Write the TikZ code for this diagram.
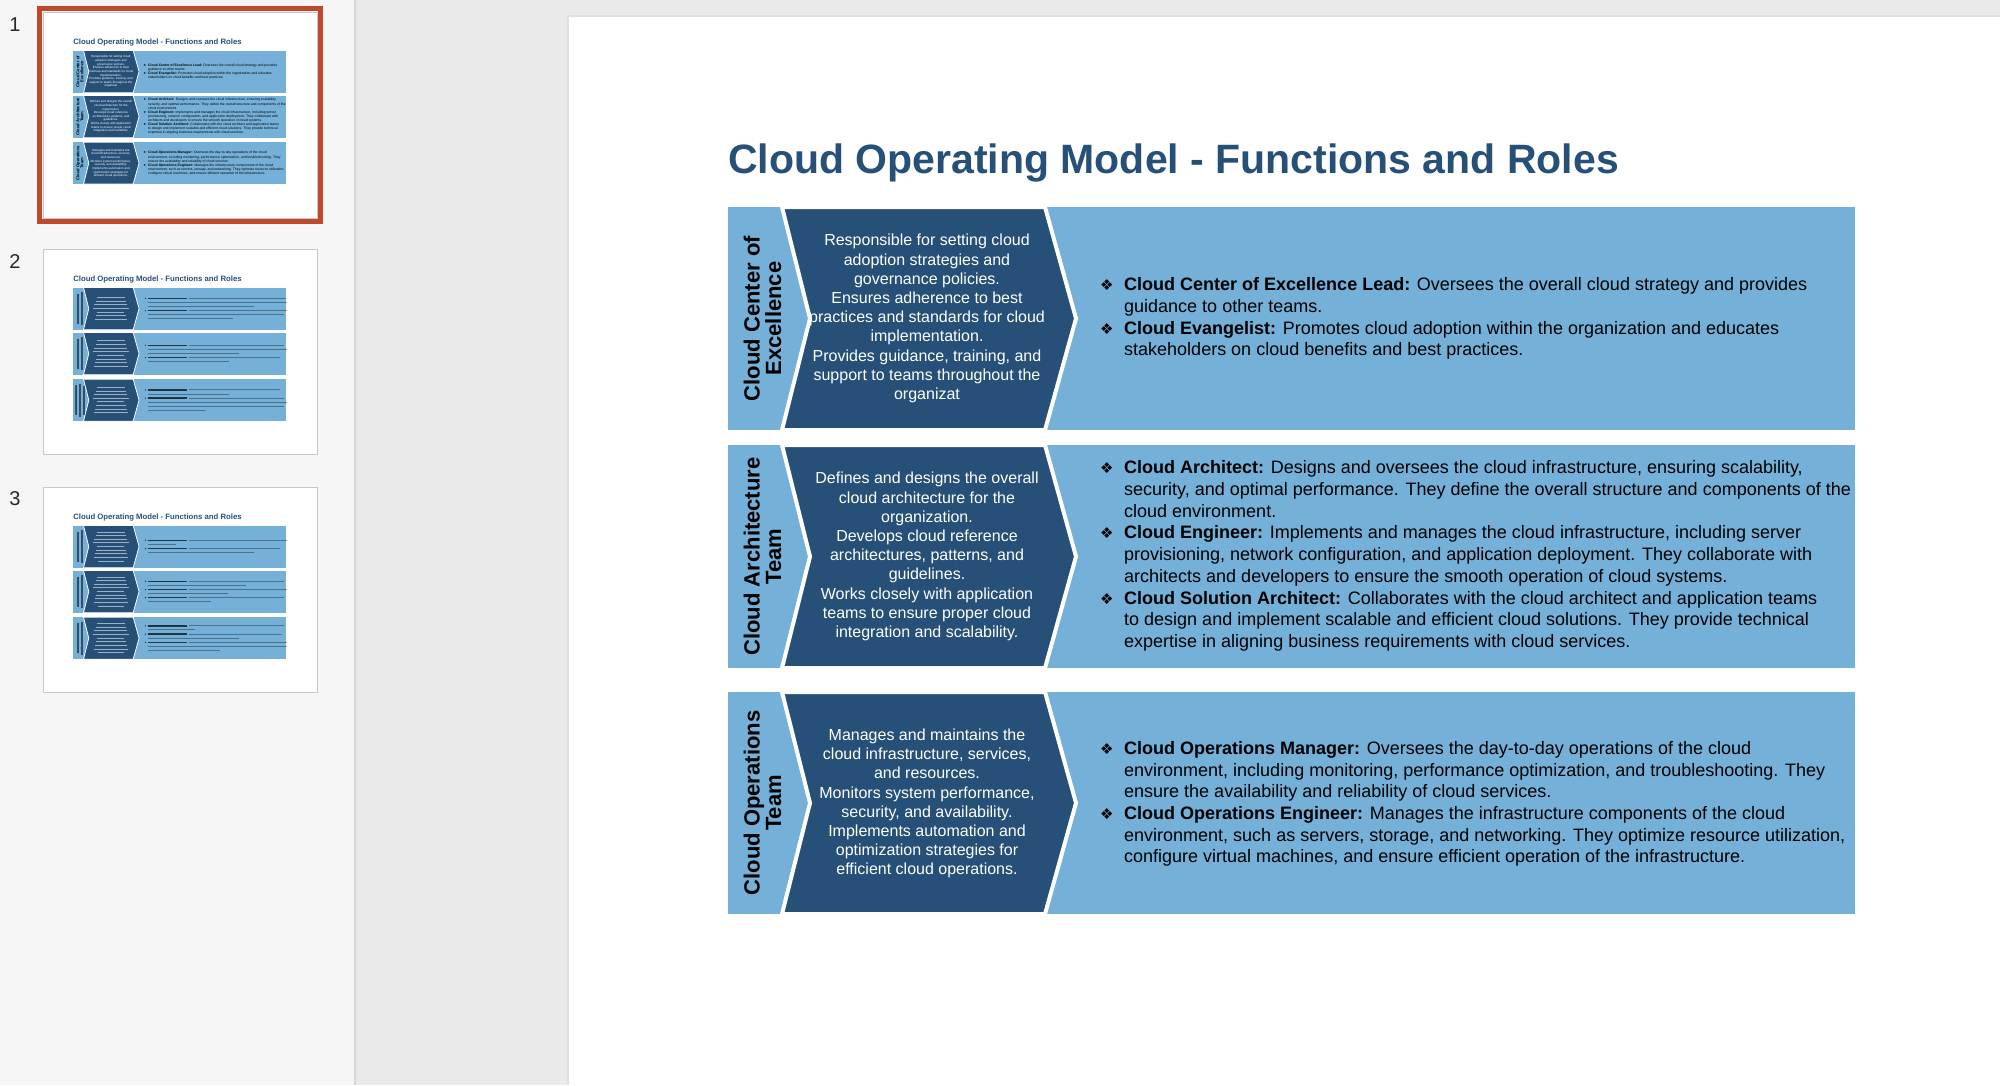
\documentclass[tikz,border=0pt]{standalone}
\usepackage{fontspec}
\setmainfont{Liberation Sans}
\newfontfamily\symfont{DejaVu Sans}
\definecolor{lightband}{RGB}{116,176,216}
\definecolor{darkband}{RGB}{38,80,120}
\definecolor{titleblue}{RGB}{38,80,120}
\definecolor{appgray}{RGB}{234,234,234}
\definecolor{sidegray}{RGB}{246,246,246}
\definecolor{sideline}{RGB}{214,214,214}
\definecolor{selred}{RGB}{192,72,44}
\definecolor{thumbline}{RGB}{200,200,200}
\definecolor{numgray}{RGB}{40,40,40}

\newcommand{\chevlw}{4pt}
\newcommand{\bul}{\makebox[24pt][l]{\symfont\fontsize{15}{15}\selectfont ❖}}
\newcommand{\ind}{\hspace*{24pt}}

\tikzset{
  chev/.style={fill=darkband, draw=white, line width=\chevlw, line join=miter},
  chevtext/.style={text=white, align=center, font=\fontsize{16}{19.2}\selectfont, inner sep=0pt},
  sidelabel/.style={rotate=90, align=center, font=\bfseries\fontsize{22}{21.5}\selectfont, inner sep=0pt},
  roletext/.style={anchor=west, align=left, font=\fontsize{18}{21.7}\selectfont, inner sep=0pt},
  slidetitle/.style={anchor=base west, text=titleblue, font=\bfseries\fontsize{41}{49}\selectfont, inner sep=0pt},
  thumbnum/.style={text=numgray, font=\fontsize{20}{20}\selectfont, inner sep=0pt},
  greekw/.style={white, opacity=0.55, line width=1pt},
  greekd/.style={black, opacity=0.35, line width=1pt},
  greekbold/.style={black, opacity=0.7, line width=1.3pt},
  greekb/.style={black, opacity=0.6},
  greekl/.style={black, opacity=0.55, line width=1.8pt}
}

\newcommand{\bands}{%
  \foreach \bt/\bb in {207/430, 445/668, 692/914}{%
    \pgfmathsetmacro{\bm}{(\bt+\bb)/2}%
    \fill[lightband] (728,\bt) rectangle (1855,\bb);
    \draw[chev] (782,\bt) -- (1045,\bt) -- (1076,\bm) -- (1045,\bb) -- (782,\bb) -- (810,\bm) -- cycle;
  }%
}

\newcommand{\slideone}[1]{%
  \node[slidetitle] (#1title) at (728,173) {Cloud Operating Model - Functions and Roles};
  \bands
  \node[sidelabel] (#1lab1) at (762.5,318.5) {Cloud Center of\\Excellence};
  \node[sidelabel] (#1lab2) at (762.5,556.5) {Cloud Architecture\\Team};
  \node[sidelabel] (#1lab3) at (762.5,803) {Cloud Operations\\Team};
  \node[chevtext] (#1desc1) at (927,318.5) {Responsible for setting cloud\\adoption strategies and\\governance policies.\\Ensures adherence to best\\practices and standards for cloud\\implementation.\\Provides guidance, training, and\\support to teams throughout the\\organizat};
  \node[chevtext] (#1desc2) at (927,556.5) {Defines and designs the overall\\cloud architecture for the\\organization.\\Develops cloud reference\\architectures, patterns, and\\guidelines.\\Works closely with application\\teams to ensure proper cloud\\integration and scalability.};
  \node[chevtext] (#1desc3) at (927,803.5) {Manages and maintains the\\cloud infrastructure, services,\\and resources.\\Monitors system performance,\\security, and availability.\\Implements automation and\\optimization strategies for\\efficient cloud operations.};
  \node[roletext] (#1roles1) at (1100,318.5) {\bul\textbf{Cloud Center of Excellence Lead:} Oversees the overall cloud strategy and provides\\\ind guidance to other teams.\\\bul\textbf{Cloud Evangelist:} Promotes cloud adoption within the organization and educates\\\ind stakeholders on cloud benefits and best practices.};
  \node[roletext] (#1roles2) at (1100,556) {\bul\textbf{Cloud Architect:} Designs and oversees the cloud infrastructure, ensuring scalability,\\\ind security, and optimal performance. They define the overall structure and components of the\\\ind cloud environment.\\\bul\textbf{Cloud Engineer:} Implements and manages the cloud infrastructure, including server\\\ind provisioning, network configuration, and application deployment. They collaborate with\\\ind architects and developers to ensure the smooth operation of cloud systems.\\\bul\textbf{Cloud Solution Architect:} Collaborates with the cloud architect and application teams\\\ind to design and implement scalable and efficient cloud solutions. They provide technical\\\ind expertise in aligning business requirements with cloud services.};
  \node[roletext] (#1roles3) at (1100,804) {\bul\textbf{Cloud Operations Manager:} Oversees the day-to-day operations of the cloud\\\ind environment, including monitoring, performance optimization, and troubleshooting. They\\\ind ensure the availability and reliability of cloud services.\\\bul\textbf{Cloud Operations Engineer:} Manages the infrastructure components of the cloud\\\ind environment, such as servers, storage, and networking. They optimize resource utilization,\\\ind configure virtual machines, and ensure efficient operation of the infrastructure.};
}

\newcommand{\greekchev}[2]{%
  \foreach \gi in {1,...,#2}{%
    \pgfmathsetmacro{\gy}{#1-(#2-1)*9.6+(\gi-1)*19.2}%
    \pgfmathsetmacro{\gw}{66+mod(\gi*37,30)}%
    \draw[greekw] ({927-\gw},\gy) -- ({927+\gw},\gy);
  }%
}
\newcommand{\greekright}[3]{%
  \foreach \gb/\gl [count=\gk] in {#3}{%
    \pgfmathsetmacro{\gy}{#1-(#2-1)*10.85+(\gk-1)*21.7}%
    \ifnum\gb=1
      \fill[greekb] (1110,\gy) circle (4);
      \draw[greekbold] (1124,\gy) -- (1330,\gy);
      \draw[greekd] (1340,\gy) -- ({1124+\gl},\gy);
    \else
      \draw[greekd] (1124,\gy) -- ({1124+\gl},\gy);
    \fi
  }%
}
\newcommand{\greeklabel}[2]{%
  \foreach \gi in {1,...,#2}{%
    \pgfmathsetmacro{\gx}{762.5-(#2-1)*10.75+(\gi-1)*21.5}%
    \pgfmathsetmacro{\gh}{70+mod(\gi*29,20)}%
    \draw[greekl] (\gx,{#1-\gh}) -- (\gx,{#1+\gh});
  }%
}

\begin{document}
\begin{tikzpicture}[x=1pt,y=-1pt]
\useasboundingbox (0,0) rectangle (2000,1085);
% application background
\fill[appgray] (0,0) rectangle (2000,1085);
\fill[sidegray] (0,0) rectangle (355,1085);
\draw[sideline, line width=1.2pt] (355,0) -- (355,1085);
% slide
\fill[black!12] (567,15) rectangle (2000,1085);
\fill[white] (569,17) rectangle (2000,1085);
\slideone{m}

% thumbnail numbers
\node[thumbnum] (n1) at (15,25) {1};
\node[thumbnum] (n2) at (15,262) {2};
\node[thumbnum] (n3) at (15,499) {3};

% thumbnail 1 (selected)
\draw[selred, line width=5pt] (39.5,8.5) rectangle (320.5,221.5);
\filldraw[fill=white, draw=thumbline, line width=0.8pt] (43,12) rectangle (317,218);
\begin{scope}[shift={(-64.3,11.4)}, scale=0.189, transform shape]
  \renewcommand{\chevlw}{0.8pt}
  \slideone{t}
\end{scope}

% thumbnail 2
\filldraw[fill=white, draw=thumbline, line width=1pt] (43,249) rectangle (317,454);
\begin{scope}[shift={(-64.3,248.4)}, scale=0.189, transform shape]
  \renewcommand{\chevlw}{0.8pt}
  \node[slidetitle] (ttitle2) at (728,173) {Cloud Operating Model - Functions and Roles};
  \bands
  \greeklabel{318.5}{2}\greekchev{318.5}{7}\greekright{318.5}{6}{1/730,0/735,0/560,1/735,0/720,0/450}
  \greeklabel{556.5}{2}\greekchev{556.5}{8}\greekright{556.5}{5}{1/720,0/735,0/480,1/700,0/430}
  \greeklabel{803}{3}\greekchev{803}{8}\greekright{803}{6}{1/700,0/430,1/720,0/735,0/720,0/300}
\end{scope}

% thumbnail 3
\filldraw[fill=white, draw=thumbline, line width=1pt] (43,487) rectangle (317,692);
\begin{scope}[shift={(-64.3,486.4)}, scale=0.189, transform shape]
  \renewcommand{\chevlw}{0.8pt}
  \node[slidetitle] (ttitle3) at (728,173) {Cloud Operating Model - Functions and Roles};
  \bands
  \greeklabel{318.5}{2}\greekchev{318.5}{9}\greekright{318.5}{4}{1/735,0/150,1/700,0/560}
  \greeklabel{556.5}{2}\greekchev{556.5}{9}\greekright{556.5}{6}{1/720,0/520,1/735,0/420,1/720,0/330}
  \greeklabel{803}{2}\greekchev{803}{9}\greekright{803}{7}{1/720,0/250,1/710,0/480,1/735,0/735,0/380}
\end{scope}
\end{tikzpicture}
\end{document}
